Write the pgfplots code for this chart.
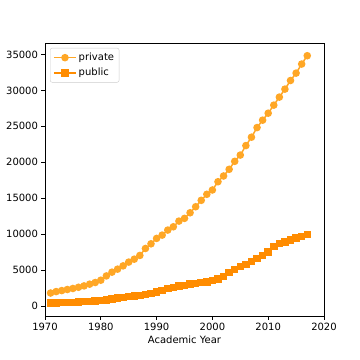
\documentclass[border=0pt]{standalone}
\usepackage{pgfplots}
\pgfplotsset{compat=1.18}
\usepackage{fontspec}
\setmainfont{DejaVu Sans}
\definecolor{priv}{HTML}{FFA726}
\definecolor{publ}{HTML}{FF8C00}
\begin{document}
\begin{tikzpicture}[x=1pt,y=1pt]
\path[use as bounding box] (0,0) rectangle (360,360);
\begin{axis}[
  at={(45pt,44pt)}, anchor=south west,
  scale only axis, width=279pt, height=273pt,
  xmin=1970, xmax=2020, ymin=-1400, ymax=36600,
  xtick={1970,1980,...,2020},
  ytick={0,5000,...,35000},
  scaled ticks=false,
  tick align=outside, tick pos=left,
  major tick length=3.5pt,
  every tick/.style={black, line width=0.8pt},
  axis line style={line width=0.8pt, black},
  /pgf/number format/1000 sep={},
  /pgf/number format/assume math mode=true,
  tick label style={font=\fontsize{10}{12}\selectfont},
  xlabel={Academic Year},
  xlabel style={font=\fontsize{10}{12}\selectfont, yshift=2pt},
  legend style={at={(0.018,0.982)}, anchor=north west, draw=black!20, rounded corners=2pt,
    font=\fontsize{10}{12}\selectfont, inner sep=3pt, row sep=2pt},
  legend image code/.code={\draw[mark repeat=2,mark phase=2] plot coordinates {(0pt,0pt) (11pt,0pt) (22pt,0pt)};},
  legend cell align=left,
]
\addplot[color=priv, line width=1.5pt, mark=*, mark size=3pt, mark options={fill=priv, draw=priv}] coordinates {
(1971,1800) (1972,2000) (1973,2140) (1974,2290) (1975,2430) (1976,2600) (1977,2790) (1978,3030) (1979,3260) (1980,3580)
(1981,4180) (1982,4700) (1983,5120) (1984,5580) (1985,6100) (1986,6510) (1987,7030) (1988,8000) (1989,8650) (1990,9400)
(1991,9860) (1992,10560) (1993,11020) (1994,11810) (1995,12190) (1996,12970) (1997,13810) (1998,14700) (1999,15540) (2000,16140)
(2001,17290) (2002,18090) (2003,19020) (2004,20130) (2005,21000) (2006,22320) (2007,23490) (2008,24830) (2009,25860) (2010,26830)
(2011,27950) (2012,29070) (2013,30180) (2014,31380) (2015,32410) (2016,33670) (2017,34830)
};
\addlegendentry{private}
\addplot[color=publ, line width=1.5pt, mark=square*, mark size=3pt, mark options={fill=publ, draw=publ}] coordinates {
(1971,380) (1972,420) (1973,450) (1974,470) (1975,500) (1976,560) (1977,600) (1978,640) (1979,690) (1980,760)
(1981,840) (1982,950) (1983,1100) (1984,1200) (1985,1300) (1986,1380) (1987,1460) (1988,1580) (1989,1750) (1990,1920)
(1991,2150) (1992,2450) (1993,2600) (1994,2780) (1995,2880) (1996,3020) (1997,3150) (1998,3250) (1999,3350) (2000,3520)
(2001,3720) (2002,4100) (2003,4650) (2004,5080) (2005,5490) (2006,5780) (2007,6190) (2008,6610) (2009,7030) (2010,7530)
(2011,8280) (2012,8700) (2013,8880) (2014,9160) (2015,9440) (2016,9680) (2017,9960)
};
\addlegendentry{public}
\end{axis}
\end{tikzpicture}
\end{document}
